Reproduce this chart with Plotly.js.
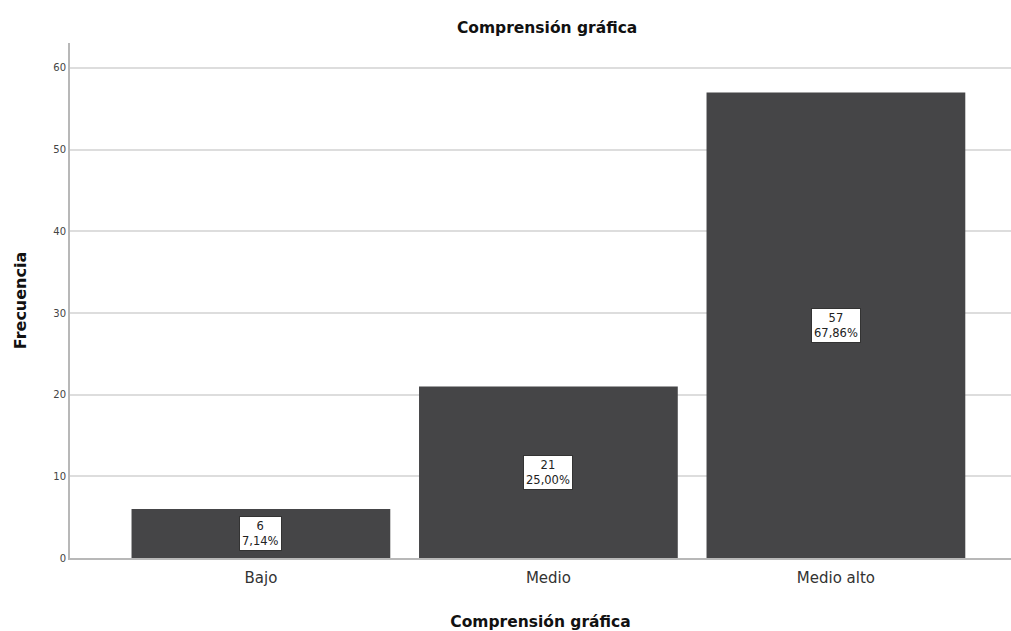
<!DOCTYPE html>
<html>
<head>
<meta charset="utf-8">
<script src="https://cdn.plot.ly/plotly-3.0.1.min.js"></script>
<style>html,body{margin:0;padding:0;background:#fff;}#chart{width:1011px;height:631px;}</style>
</head>
<body>
<div id="chart"></div>
<script>
const categories = ["Bajo", "Medio", "Medio alto"];
const frecuencias = [6, 21, 57];
const porcentajes = ["7,14%", "25,00%", "67,86%"];
const yTicks = [0, 10, 20, 30, 40, 50, 60];

const FONT = "DejaVu Sans, Arial, sans-serif";

const trace = {
  type: "bar",
  x: categories,
  y: frecuencias,
  width: 0.9,
  marker: {color: "#454547", line: {width: 0}},
  hoverinfo: "skip"
};

const annotations = categories.map((c, i) => ({
  x: c,
  y: frecuencias[i] / 2,
  xref: "x", yref: "y",
  text: frecuencias[i] + "<br>" + porcentajes[i],
  showarrow: false,
  font: {family: FONT, size: 11.5, color: "#222"},
  bgcolor: "#ffffff",
  bordercolor: "#333333",
  borderwidth: 1,
  borderpad: 2
}));

const layout = {
  width: 1011,
  height: 631,
  margin: {l: 70, r: 0, t: 43, b: 73},
  paper_bgcolor: "#ffffff",
  plot_bgcolor: "#ffffff",
  showlegend: false,
  title: {
    text: "<b>Comprensión gráfica</b>",
    font: {family: FONT, size: 15.5, color: "#111"},
    x: 0.507, xref: "paper", xanchor: "center",
    y: 1 - 28 / 631, yref: "container", yanchor: "middle"
  },
  xaxis: {
    type: "category",
    range: [-0.664, 2.609],
    showgrid: false,
    showline: true,
    linecolor: "#b8b8b8",
    linewidth: 2,
    ticks: "",
    ticklabelstandoff: 5,
    tickfont: {family: FONT, size: 15, color: "#333"},
    title: {
      text: "<b>Comprensión gráfica</b>",
      font: {family: FONT, size: 15.5, color: "#111"},
      standoff: 34
    },
    fixedrange: true
  },
  yaxis: {
    range: [0, 63.06],
    tickvals: yTicks,
    ticktext: yTicks.map(String),
    showgrid: true,
    gridcolor: "#dddddd",
    gridwidth: 2,
    zeroline: false,
    showline: true,
    linecolor: "#b8b8b8",
    linewidth: 2,
    ticks: "",
    tickfont: {family: FONT, size: 10, color: "#444"},
    title: {
      text: "<b>Frecuencia</b>",
      font: {family: FONT, size: 16, color: "#111"},
      standoff: 23
    },
    fixedrange: true
  },
  annotations: annotations
};

Plotly.newPlot("chart", [trace], layout, {displayModeBar: false, staticPlot: true});
</script>
</body>
</html>
